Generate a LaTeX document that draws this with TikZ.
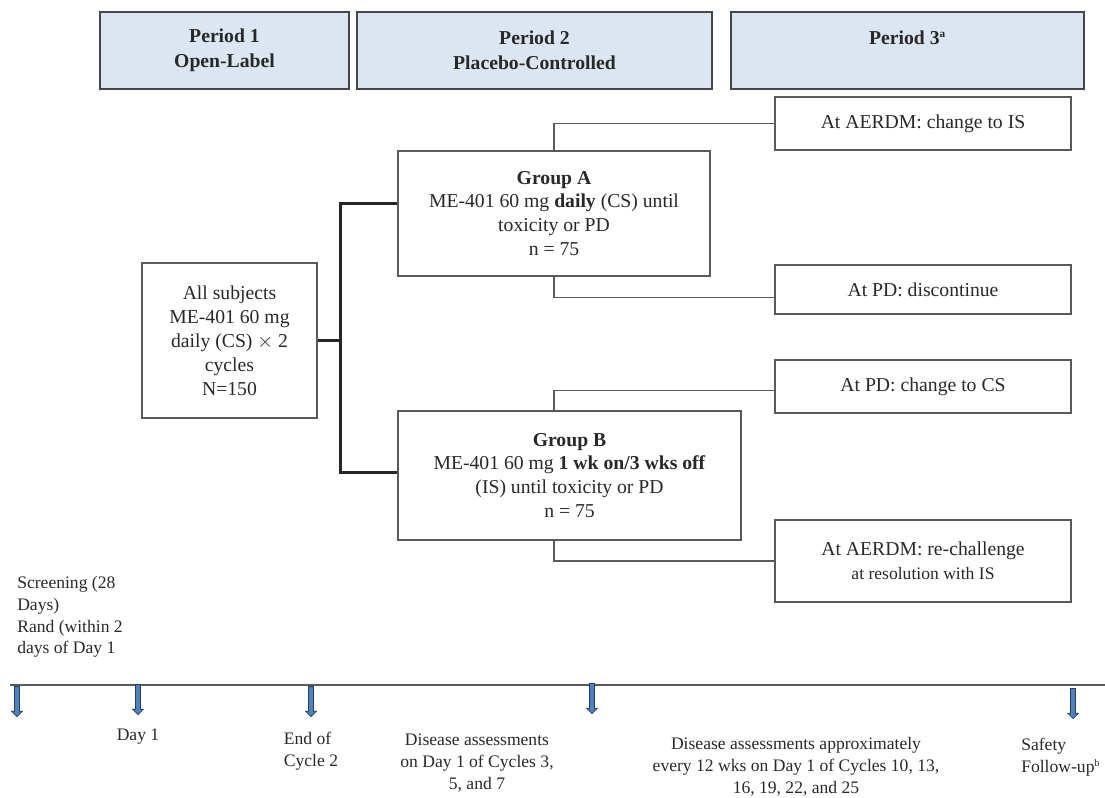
\documentclass[tikz,border=0pt]{standalone}
\usepackage{fontspec}
\setmainfont{Liberation Serif}
\usepackage{xcolor}
\definecolor{hdrfill}{RGB}{220,230,242}
\definecolor{hdrline}{RGB}{70,70,70}
\definecolor{boxline}{RGB}{90,90,90}
\definecolor{txtgray}{RGB}{40,40,40}
\definecolor{arrblue}{RGB}{79,129,189}
\definecolor{arrline}{RGB}{40,60,90}
\usetikzlibrary{arrows.meta, positioning, shapes.arrows}

\tikzset{
  periodbox/.style={draw=hdrline, fill=hdrfill, line width=1pt, align=center,
    font=\fontsize{14}{18}\selectfont\bfseries, text=txtgray, inner sep=0pt},
  armbox/.style={draw=boxline, line width=0.8pt, align=center,
    font=\fontsize{14}{17}\selectfont, text=txtgray, inner sep=0pt},
  tmarrow/.style={single arrow, draw=arrline, fill=arrblue, line width=0.5pt,
    shape border rotate=270, minimum height=0.75cm, inner sep=0.055cm,
    single arrow head extend=0.07cm},
  tmlabel/.style={font=\fontsize{12.5}{15.5}\selectfont, text=txtgray, inner sep=0pt},
  link/.style={draw=boxline, line width=0.8pt}
}

\begin{document}
\begin{tikzpicture}[x=0.025cm, y=-0.025cm]
  \useasboundingbox (0,0) rectangle (1105,797);

  % Period headers
  \node[periodbox, minimum width=6.225cm, minimum height=1.925cm] (per1) at (224.5,50.5) {Period 1\\Open-Label};
  \node[periodbox, minimum width=8.875cm, minimum height=1.925cm] (per2) at (534.5,50.5) {Period 2\\Placebo-Controlled};
  \node[periodbox, minimum width=8.825cm, minimum height=1.925cm] (per3) at (907.5,50.5) {Period 3\textsuperscript{\footnotesize a}\\~};

  % Period 1 box
  \node[armbox, minimum width=4.375cm, minimum height=3.875cm] (allsubj) at (229.5,340.5)
    {All subjects\\ME-401 60 mg\\daily (CS) $\times$ 2\\cycles\\N=150};

  % Group A
  \node[armbox, minimum width=7.8cm, minimum height=3.125cm] (grpA) at (554,213.5)
    {\textbf{Group A}\\ME-401 60 mg \textbf{daily} (CS) until\\toxicity or PD\\n = 75};
  \node[armbox, minimum width=7.4cm, minimum height=1.325cm] (aerdmA) at (923,123.5) {At AERDM: change to IS};
  \node[armbox, minimum width=7.4cm, minimum height=1.225cm] (pdA) at (923,289.5) {At PD: discontinue};

  % Group B
  \node[armbox, minimum width=8.575cm, minimum height=3.225cm] (grpB) at (569.5,475.5)
    {\textbf{Group B}\\ME-401 60 mg \textbf{1 wk on/3 wks off}\\(IS) until toxicity or PD\\n = 75};
  \node[armbox, minimum width=7.4cm, minimum height=1.325cm] (pdB) at (923,386.5) {At PD: change to CS};
  \node[armbox, minimum width=7.4cm, minimum height=2.05cm] (aerdmB) at (923,561)
    {At AERDM: re-challenge\\{\fontsize{12.5}{15}\selectfont at resolution with IS}};

  % randomisation bracket
  \draw[line width=1.8pt, black!85] (allsubj.east) -- ++(23,0) coordinate (rand);
  \draw[line width=1.8pt, black!85] ([yshift=0.25cm]grpA.west) -| (rand) |- ([yshift=0.08cm]grpB.west);

  % links to Period 3
  \draw[link] (grpA.north) |- (aerdmA.west);
  \draw[link] (grpA.south) |- ([yshift=-0.2cm]pdA.west);
  \draw[link] (grpB.north -| grpA.north) |- ([yshift=-0.1cm]pdB.west);
  \draw[link] (grpB.south -| grpA.south) |- (aerdmB.west);

  % Screening note
  \node[tmlabel, anchor=north west, align=left] (screen) at (17,576)
    {Screening (28\\Days)\\Rand (within 2\\days of Day 1};

  % Timeline
  \coordinate (tlstart) at (10,685);
  \coordinate (tlend) at (1105,685);
  \draw[draw=boxline, line width=1.2pt] (tlstart) -- (tlend);
  \node[tmarrow, anchor=tip] (arr1) at (17,717) {};
  \node[tmarrow, anchor=tip] (arr2) at (138,715) {};
  \node[tmarrow, anchor=tip] (arr3) at (311,717) {};
  \node[tmarrow, anchor=tip] (arr4) at (592,714) {};
  \node[tmarrow, anchor=tip] (arr5) at (1073,719) {};

  % Timeline labels
  \node[tmlabel] (lbday) at (138,737) {Day 1};
  \node[tmlabel, align=left] (lbend) at (311,751) {End of\\Cycle 2};
  \node[tmlabel, align=center] (lbdis1) at (477,763) {Disease assessments\\on Day 1 of Cycles 3,\\5, and 7};
  \node[tmlabel, align=center] (lbdis2) at (796,767) {Disease assessments approximately\\every 12 wks on Day 1 of Cycles 10, 13,\\16, 19, 22, and 25};
  \node[tmlabel, align=left, anchor=west] (lbsafe) at (1021,757) {Safety\\Follow-up\textsuperscript{\scriptsize b}};
\end{tikzpicture}
\end{document}
